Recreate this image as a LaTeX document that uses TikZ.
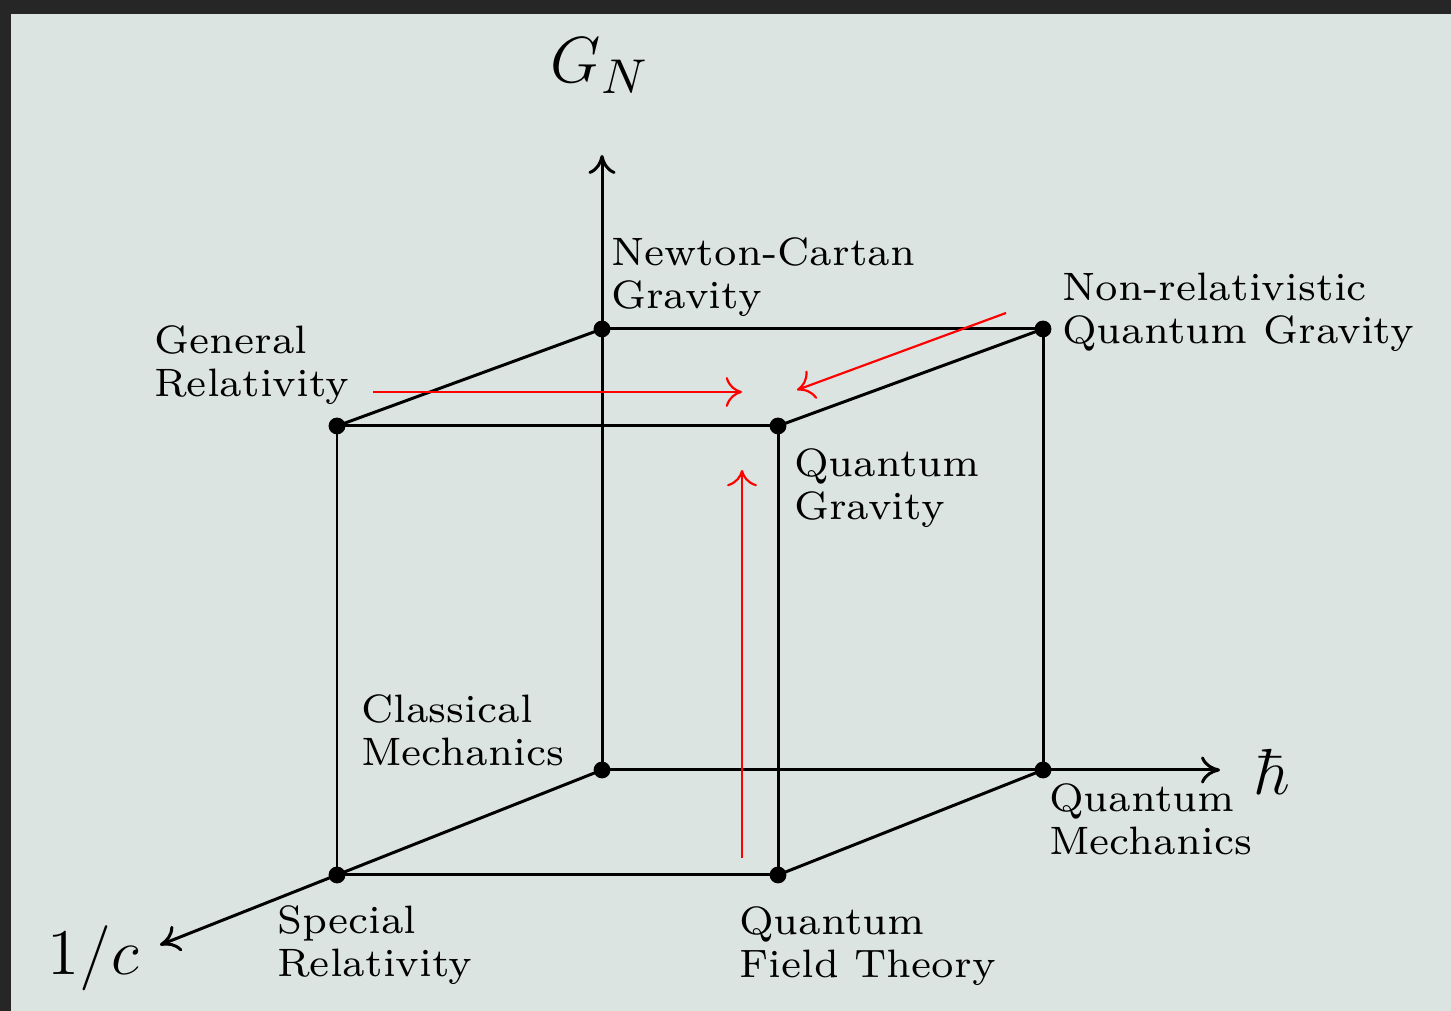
\documentclass[tikz,border=0pt]{standalone}
\usetikzlibrary{arrows.meta}
\definecolor{bg}{RGB}{220,228,225}
\definecolor{framecol}{RGB}{38,38,38}
\begin{document}
\begin{tikzpicture}[x=0.18421pt,y=-0.18421pt,
  edge/.style={line width=0.55pt},
  axis/.style={line width=0.55pt,-{To[length=3.5pt,width=5pt]}},
  redarrow/.style={red,line width=0.4pt,-{To[length=3pt,width=5.5pt]}},
  dot/.style={circle,fill=black,inner sep=0pt,minimum size=3.1pt},
  lbl/.style={anchor=north west,inner sep=0pt,align=left,font=\fontsize{7.3}{7.92}\selectfont},
]
\useasboundingbox (0,0) rectangle (1451,1011);
\fill[framecol] (0,0) rectangle (1451,1011);
\fill[bg] (11,14) rectangle (1451,1011);

% cube corners
\coordinate (cm) at (602,770);
\coordinate (nc) at (602,329);
\coordinate (nrqg) at (1043,329);
\coordinate (qm) at (1043,770);
\coordinate (sr) at (337,875);
\coordinate (gr) at (337,426);
\coordinate (qg) at (778,426);
\coordinate (qft) at (778,875);
% axis ends
\coordinate (gtip) at (602,155);
\coordinate (htip) at (1220,770);
\coordinate (ctip) at (160,945);

% axes
\draw[axis] (cm) -- (gtip);
\draw[axis] (cm) -- (htip);
\draw[axis] (cm) -- (ctip);

% cube edges
\draw[edge] (nc) -- (nrqg) -- (qm);
\draw[edge] (gr) -- (qg) -- (qft) -- (sr) -- cycle;
\draw[edge] (gr) -- (nc);
\draw[edge] (qg) -- (nrqg);
\draw[edge] (qft) -- (qm);

% dots
\foreach \p in {cm,nc,nrqg,qm,sr,gr,qg,qft}
  \node[dot] (\p dot) at (\p) {};

% red arrows
\coordinate (ra1s) at (373,392);
\coordinate (ra1e) at (742,392);
\coordinate (ra2s) at (1006,313);
\coordinate (ra2e) at (797,390);
\coordinate (ra3s) at (742,858);
\coordinate (ra3e) at (742,470);
\draw[redarrow] (ra1s) -- (ra1e);
\draw[redarrow] (ra2s) -- (ra2e);
\draw[redarrow] (ra3s) -- (ra3e);

% axis labels
\node (gnlab) at (600,66) {\fontsize{12.5}{15}\selectfont $G_N$};
\node (hlab) at (1272,772) {\fontsize{12.5}{15}\selectfont $\hbar$};
\node (clab) at (93,958) {\fontsize{12.5}{15}\selectfont $1/c$};

% corner labels
\node[lbl] (nclab) at (610,237) {Newton-Cartan\\Gravity};
\node[lbl] (grlab) at (153,325) {General\\Relativity};
\node[lbl] (nrqglab) at (1061,272) {Non-relativistic\\Quantum Gravity};
\node[lbl] (qglab) at (793,448) {Quantum\\Gravity};
\node[lbl] (cmlab) at (360,694) {Classical\\Mechanics};
\node[lbl] (qmlab) at (1048,783) {Quantum\\Mechanics};
\node[lbl] (srlab) at (276,905) {Special\\Relativity};
\node[lbl] (qftlab) at (738,906) {Quantum\\Field Theory};
\end{tikzpicture}
\end{document}
